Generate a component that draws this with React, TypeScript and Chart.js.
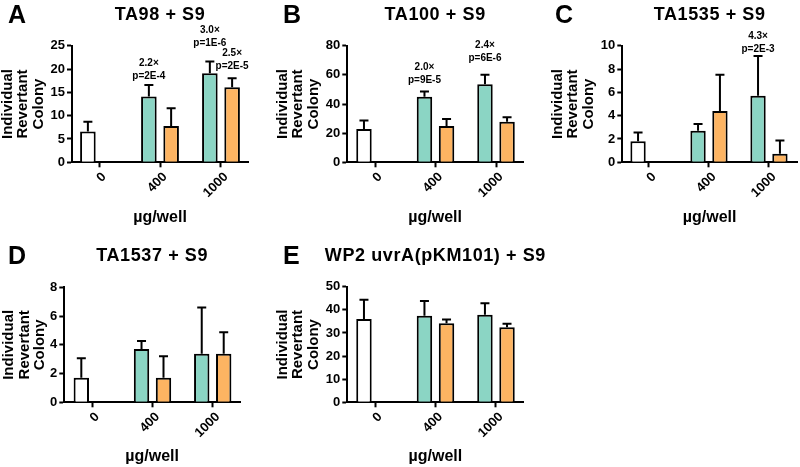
import React, { useEffect, useRef } from 'react';
import { Chart, registerables } from 'chart.js';

Chart.register(...registerables);

const FONT = "'Liberation Sans', Arial, Helvetica, sans-serif";
const TEAL = '#8BD5C4';
const ORANGE = '#FDB462';
const CONTROL_FILL = '#FFFFFF';

const doseLabels = ['0', '400', '1000'];
const yTitleLines = ['Individual', 'Revertant', 'Colony'];
const xTitle = 'µg/well';

// A: TA98 + S9
const ta98Teal = [6.6, 14.1, 19.1];
const ta98TealSd = [2.1, 2.5, 2.5];
const ta98Orange = [null, 7.8, 16.1];
const ta98OrangeSd = [null, 3.8, 1.9];
const ta98Notes = [
  { series: 0, dose: 1, lines: ['2.2×', 'p=2E-4'] },
  { series: 0, dose: 2, lines: ['3.0×', 'p=1E-6'] },
  { series: 1, dose: 2, lines: ['2.5×', 'p=2E-5'] },
];

// B: TA100 + S9
const ta100Teal = [22.9, 45.0, 53.5];
const ta100TealSd = [5.7, 3.5, 6.6];
const ta100Orange = [null, 24.9, 27.9];
const ta100OrangeSd = [null, 4.8, 3.0];
const ta100Notes = [
  { series: 0, dose: 1, lines: ['2.0×', 'p=9E-5'] },
  { series: 0, dose: 2, lines: ['2.4×', 'p=6E-6'] },
];

// C: TA1535 + S9
const ta1535Teal = [1.8, 2.7, 5.7];
const ta1535TealSd = [0.75, 0.58, 3.42];
const ta1535Orange = [null, 4.4, 0.74];
const ta1535OrangeSd = [null, 3.1, 1.12];
const ta1535Notes = [{ series: 0, dose: 2, lines: ['4.3×', 'p=2E-3'] }];

// D: TA1537 + S9
const ta1537Teal = [1.7, 3.7, 3.37];
const ta1537TealSd = [1.36, 0.57, 3.23];
const ta1537Orange = [null, 1.7, 3.37];
const ta1537OrangeSd = [null, 1.51, 1.51];

// E: WP2 uvrA(pKM101) + S9
const wp2Teal = [36.0, 37.4, 37.9];
const wp2TealSd = [8.4, 6.4, 4.9];
const wp2Orange = [null, 34.2, 32.5];
const wp2OrangeSd = [null, 1.6, 1.5];

type Note = { series: number; dose: number; lines: string[] };
type PanelCfg = {
  letter: string;
  title: string;
  box: { left: number; top: number; width: number; height: number };
  area: { left: number; top: number; right: number; bottom: number };
  xRange: [number, number];
  yMax: number;
  yStep: number;
  teal: (number | null)[];
  tealSd: (number | null)[];
  orange: (number | null)[];
  orangeSd: (number | null)[];
  notes: Note[];
  noteGaps: number[];
  titleY: number;
  letterX: number;
  yTitlePad: number;
  xTitlePad: number;
};

const panels: PanelCfg[] = [
  {
    letter: 'A', title: 'TA98 + S9',
    box: { left: 0, top: 0, width: 260, height: 232 },
    area: { left: 72, top: 45.7, right: 248, bottom: 162.3 },
    xRange: [-0.443, 2.443], yMax: 25, yStep: 5,
    teal: ta98Teal, tealSd: ta98TealSd, orange: ta98Orange, orangeSd: ta98OrangeSd,
    notes: ta98Notes, noteGaps: [9, 18.5, 12.3],
    titleY: 15, letterX: 8, yTitlePad: 0, xTitlePad: 6,
  },
  {
    letter: 'B', title: 'TA100 + S9',
    box: { left: 275, top: 0, width: 260, height: 232 },
    area: { left: 72.3, top: 45.7, right: 248, bottom: 162.3 },
    xRange: [-0.458, 2.446], yMax: 80, yStep: 20,
    teal: ta100Teal, tealSd: ta100TealSd, orange: ta100Orange, orangeSd: ta100OrangeSd,
    notes: ta100Notes, noteGaps: [11.6, 16.7],
    titleY: 15, letterX: 8, yTitlePad: 0, xTitlePad: 6,
  },
  {
    letter: 'C', title: 'TA1535 + S9',
    box: { left: 550, top: 0, width: 250, height: 232 },
    area: { left: 72.3, top: 45.7, right: 247, bottom: 162.3 },
    xRange: [-0.445, 2.467], yMax: 10, yStep: 2,
    teal: ta1535Teal, tealSd: ta1535TealSd, orange: ta1535Orange, orangeSd: ta1535OrangeSd,
    notes: ta1535Notes, noteGaps: [7],
    titleY: 15, letterX: 5, yTitlePad: 0, xTitlePad: 6,
  },
  {
    letter: 'D', title: 'TA1537 + S9',
    box: { left: 0, top: 232, width: 260, height: 235 },
    area: { left: 64.3, top: 55.3, right: 240, bottom: 170.3 },
    xRange: [-0.465, 2.453], yMax: 8, yStep: 2,
    teal: ta1537Teal, tealSd: ta1537TealSd, orange: ta1537Orange, orangeSd: ta1537OrangeSd,
    notes: [], noteGaps: [],
    titleY: 24, letterX: 8, yTitlePad: 1.5, xTitlePad: 2,
  },
  {
    letter: 'E', title: 'WP2 uvrA(pKM101) + S9',
    box: { left: 275, top: 232, width: 285, height: 235 },
    area: { left: 72.3, top: 54.7, right: 248.5, bottom: 170.3 },
    xRange: [-0.458, 2.455], yMax: 50, yStep: 10,
    teal: wp2Teal, tealSd: wp2TealSd, orange: wp2Orange, orangeSd: wp2OrangeSd,
    notes: [], noteGaps: [],
    titleY: 24, letterX: 8, yTitlePad: 0, xTitlePad: 2,
  },
];

function panelPlugin(p: PanelCfg) {
  const means = [p.teal, p.orange];
  const sds = [p.tealSd, p.orangeSd];
  return {
    id: 'panelDecor' + p.letter,
    afterDatasetsDraw(chart: any) {
      const { ctx } = chart;
      const y = chart.scales.y;
      ctx.save();
      ctx.strokeStyle = '#000';
      ctx.lineWidth = 2;
      sds.forEach((sdArr, d) => {
        const meta = chart.getDatasetMeta(d);
        sdArr.forEach((sd, i) => {
          const m = means[d][i];
          if (sd == null || m == null) return;
          const el = meta.data[i];
          if (!el) return;
          const x = el.x;
          const yTop = y.getPixelForValue(m + sd);
          const yBar = y.getPixelForValue(m);
          ctx.beginPath();
          ctx.moveTo(x, yBar);
          ctx.lineTo(x, yTop);
          ctx.moveTo(x - 4.5, yTop);
          ctx.lineTo(x + 4.5, yTop);
          ctx.stroke();
        });
      });
      // annotations
      ctx.fillStyle = '#000';
      ctx.font = `bold 10px ${FONT}`;
      ctx.textAlign = 'center';
      ctx.textBaseline = 'middle';
      p.notes.forEach((n, k) => {
        const m = means[n.series][n.dose];
        const sd = sds[n.series][n.dose];
        if (m == null) return;
        const el = chart.getDatasetMeta(n.series).data[n.dose];
        const capY = y.getPixelForValue(m + (sd || 0));
        const bottomY = capY - (p.noteGaps[k] ?? 8);
        const L = n.lines.length;
        n.lines.forEach((line, j) => {
          ctx.fillText(line, el.x, bottomY - (L - 1 - j) * 13);
        });
      });
      ctx.restore();
    },
    afterDraw(chart: any) {
      const { ctx, chartArea } = chart;
      ctx.save();
      ctx.fillStyle = '#000';
      ctx.textBaseline = 'middle';
      ctx.textAlign = 'left';
      ctx.font = `bold 25px ${FONT}`;
      ctx.fillText(p.letter, p.letterX, p.titleY + 1);
      ctx.textAlign = 'center';
      ctx.font = `bold 18px ${FONT}`;
      try { (ctx as any).letterSpacing = '0.6px'; } catch (e) {}
      ctx.fillText(p.title, (chartArea.left + chartArea.right) / 2, p.titleY);
      try { (ctx as any).letterSpacing = '0px'; } catch (e) {}
      ctx.restore();
    },
  };
}

function buildConfig(p: PanelCfg): any {
  const w = p.box.width;
  const h = p.box.height;
  const yAxisW = p.area.left;
  const xAxisH = h - p.area.bottom;
  const tickFont = { family: FONT, size: 13, weight: 'bold' as const };
  const toPoints = (arr: (number | null)[]) => arr.map((v, i) => ({ x: i, y: v }));
  return {
    type: 'bar',
    data: {
      datasets: [
        {
          data: toPoints(p.teal),
          backgroundColor: p.teal.map((_, i) => (i === 0 ? CONTROL_FILL : TEAL)),
          borderColor: '#000',
          borderWidth: 2,
        },
        {
          data: toPoints(p.orange),
          backgroundColor: ORANGE,
          borderColor: '#000',
          borderWidth: 2,
        },
      ],
    },
    options: {
      animation: false,
      responsive: false,
      maintainAspectRatio: false,
      devicePixelRatio: 1,
      layout: { padding: { left: 0, top: p.area.top, right: w - p.area.right, bottom: 0 } },
      datasets: { bar: { categoryPercentage: 0.73, barPercentage: 0.7 } },
      plugins: {
        legend: { display: false },
        title: { display: false },
        tooltip: { enabled: false },
      },
      scales: {
        x: {
          type: 'linear',
          min: p.xRange[0],
          max: p.xRange[1],
          offset: false,
          afterBuildTicks: (s: any) => {
            s.ticks = doseLabels.map((_, i) => ({ value: i }));
          },
          afterFit: (s: any) => {
            s.height = xAxisH;
          },
          ticks: {
            autoSkip: false,
            includeBounds: false,
            minRotation: 45,
            maxRotation: 45,
            padding: 2,
            labelOffset: 5,
            color: '#000',
            font: tickFont,
            callback: (v: number) => doseLabels[v] ?? '',
          },
          grid: {
            display: true,
            drawOnChartArea: false,
            drawTicks: true,
            tickLength: 5,
            tickWidth: 2,
            tickColor: '#000',
            offset: false,
          },
          border: { display: true, color: '#000', width: 2 },
          title: {
            display: true,
            text: xTitle,
            color: '#000',
            font: { family: FONT, size: 16, weight: 'bold', lineHeight: 1.0 },
            padding: { top: 0, bottom: p.xTitlePad },
          },
        },
        y: {
          type: 'linear',
          min: 0,
          max: p.yMax,
          afterFit: (s: any) => {
            s.width = yAxisW;
          },
          ticks: { stepSize: p.yStep, color: '#000', font: tickFont, padding: 2 },
          grid: {
            display: true,
            drawOnChartArea: false,
            drawTicks: true,
            tickLength: 5,
            tickWidth: 2,
            tickColor: '#000',
          },
          border: { display: true, color: '#000', width: 2 },
          title: {
            display: true,
            text: yTitleLines,
            color: '#000',
            font: { family: FONT, size: 15, weight: 'bold', lineHeight: 1.03 },
            padding: { top: p.yTitlePad, bottom: 0 },
          },
        },
      },
    },
    plugins: [panelPlugin(p)],
  };
}

function Panel({ p }: { p: PanelCfg }) {
  const ref = useRef<HTMLCanvasElement>(null);
  useEffect(() => {
    const chart = new Chart(ref.current as HTMLCanvasElement, buildConfig(p));
    return () => chart.destroy();
  }, [p]);
  return (
    <canvas
      ref={ref}
      width={p.box.width}
      height={p.box.height}
      style={{
        position: 'absolute',
        left: p.box.left,
        top: p.box.top,
        width: p.box.width,
        height: p.box.height,
      }}
    />
  );
}

export default function App() {
  return (
    <div
      style={{
        position: 'fixed',
        left: 0,
        top: 0,
        width: 800,
        height: 467,
        background: '#fff',
        overflow: 'hidden',
      }}
    >
      {panels.map((p) => (
        <Panel key={p.letter} p={p} />
      ))}
    </div>
  );
}
